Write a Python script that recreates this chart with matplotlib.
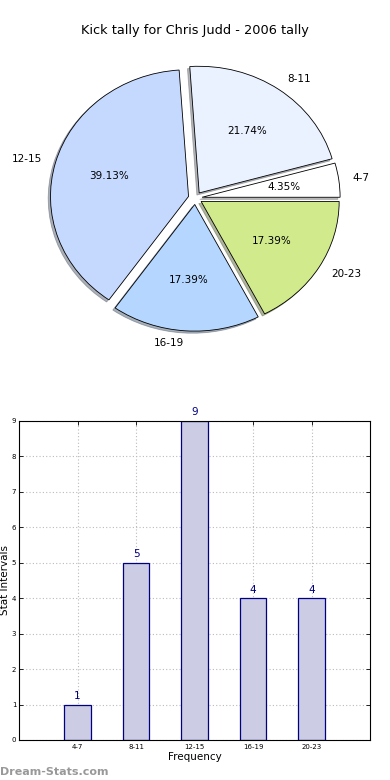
import matplotlib
matplotlib.use("Agg")
import matplotlib.pyplot as plt

# Kick tally data
categories = ['4-7', '8-11', '12-15', '16-19', '20-23']
counts = [1, 5, 9, 4, 4]
pie_colors = ['#FFFFFF', '#EAF1FF', '#C5D9FF', '#B4D6FF', '#D0EA8C']
explode = [0.05, 0.05, 0.05, 0.05, 0.05]

title = 'Kick tally for Chris Judd - 2006 tally'

fig = plt.figure(figsize=(3.9, 7.8), dpi=100)

# pie chart on top
ax1 = fig.add_axes([0.058, 0.543, 0.885, 0.406])
wedges, texts, autotexts = ax1.pie(
    counts, labels=categories, colors=pie_colors, explode=explode,
    autopct='%1.2f%%', startangle=0,
    shadow={'ox': -0.012, 'oy': -0.012, 'shade': 0.55},
    wedgeprops=dict(edgecolor='black', linewidth=0.6),
    textprops=dict(fontsize=7.5))
ax1.set_aspect('auto')
ax1.set_title(title, fontsize=9.3, pad=4.5)

# bar chart below
ax2 = fig.add_axes([0.049, 0.0513, 0.9, 0.409])
x = list(range(len(categories)))
ax2.bar(x, counts, width=0.45, color='#CCCCE5', edgecolor='#000080',
        linewidth=0.9, zorder=2)
for xi, c in zip(x, counts):
    ax2.text(xi, c + 0.1, str(c), ha='center', va='bottom',
             color='#000080', fontsize=7.5, clip_on=False)
ax2.set_xlim(-1, 5)
ax2.set_ylim(0, 9)
ax2.set_xticks(x)
ax2.set_xticklabels(categories, fontsize=5)
ax2.set_yticks(range(10))
ax2.tick_params(axis='y', labelsize=5, pad=2)
ax2.tick_params(direction='in', top=True, right=True, length=3, width=0.6)
ax2.tick_params(axis='x', pad=3)
ax2.grid(True, linestyle=(0, (1, 2)), color='#BBBBBB', linewidth=0.8, zorder=0)
ax2.set_axisbelow(True)
ax2.set_xlabel('Frequency', fontsize=7.5, labelpad=1)
ax2.set_ylabel('Stat Intervals', fontsize=7.5, labelpad=1)

fig.text(0.0, 0.004, 'Dream-Stats.com', color='#999999', fontsize=8,
         fontweight='semibold', ha='left', va='bottom')

fig.savefig('out.png', dpi=100)
